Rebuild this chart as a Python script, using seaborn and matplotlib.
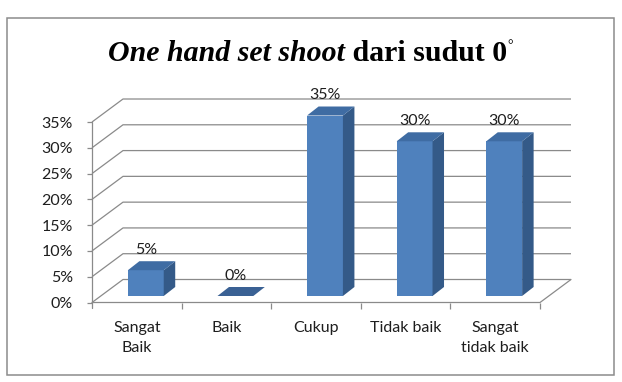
import matplotlib
matplotlib.use("Agg")
import matplotlib.pyplot as plt
import seaborn as sns
import pandas as pd
from matplotlib.patches import Polygon, Rectangle

# ---- data ----
categories = ["Sangat Baik", "Baik", "Cukup", "Tidak baik", "Sangat tidak baik"]
tick_labels = ["Sangat\nBaik", "Baik", "Cukup", "Tidak baik", "Sangat\ntidak baik"]
values = [5, 0, 35, 30, 30]
value_labels = ["5%", "0%", "35%", "30%", "30%"]
yticks = [0, 5, 10, 15, 20, 25, 30, 35]
ytick_labels = ["0%", "5%", "10%", "15%", "20%", "25%", "30%", "35%"]

sns.set_theme(style="white")
plt.rcParams["font.family"] = ["Lato", "DejaVu Sans"]

W, H = 622, 382
fig = plt.figure(figsize=(W / 100, H / 100), dpi=100)
fig.patch.set_facecolor("white")

# geometry (pixels -> data)
px_cat = 89.6
px_pct = 5.157
DX = 31 / px_cat          # wall depth in category units
DY = 23 / px_pct          # wall depth in percent units
x_left, y_floor = 92, 302.5
ax = fig.add_axes([x_left / W, 1 - y_floor / H, (5 + DX) * px_cat / W, 40 * px_pct / H])

df = pd.DataFrame({"kategori": categories, "nilai": values})
sns.barplot(data=df, x="kategori", y="nilai", width=0.40, color="#4F81BD",
            saturation=1, ax=ax, zorder=3, linewidth=0)

ax.set_xlim(-0.5, 4.5 + DX)
ax.set_ylim(0, 40)
for s in ax.spines.values():
    s.set_visible(False)
ax.set_facecolor("none")
ax.grid(False)

grid_c = "#8a8a8a"
lw = 0.9
txt_c = "#1e1e1e"
fsz = 11.5
# back wall gridlines with perspective
for v in yticks:
    ax.plot([-0.5, -0.5 + DX, 4.5 + DX], [v, v + DY, v + DY], color=grid_c, lw=lw,
            zorder=1, clip_on=False, solid_capstyle="butt")
# floor front edge and right edge
ax.plot([-0.5, 4.5, 4.5 + DX], [0, 0, DY], color=grid_c, lw=lw, zorder=1, clip_on=False)
# vertical value axis
ax.plot([-0.5, -0.5], [-1.1, 35], color=grid_c, lw=lw, zorder=2, clip_on=False)

# bars: front faces come from seaborn, shifted into the floor depth
bx = 9 / px_cat
by = 6.5 / px_pct
ddx = 11.5 / px_cat
ddy = 9 / px_pct
for i, p in enumerate(ax.patches[:len(values)]):
    p.set_x(p.get_x() + bx)
    p.set_y(p.get_y() + by)
    x0, y0, w, h = p.get_x(), p.get_y(), p.get_width(), p.get_height()
    if h > 0:
        side = Polygon([(x0 + w, y0), (x0 + w + ddx, y0 + ddy), (x0 + w + ddx, y0 + h + ddy),
                        (x0 + w, y0 + h)], closed=True, facecolor="#345A88", edgecolor="none", zorder=3)
        ax.add_patch(side)
        top_c = "#3F6CA3"
    else:
        top_c = "#3A6194"
    top = Polygon([(x0, y0 + h), (x0 + ddx, y0 + h + ddy), (x0 + w + ddx, y0 + h + ddy),
                   (x0 + w, y0 + h)], closed=True, facecolor=top_c, edgecolor="none", zorder=3)
    ax.add_patch(top)
    ax.annotate(value_labels[i], (x0 + w / 2, y0 + h + ddy), xytext=(0, 3),
                textcoords="offset points", ha="center", va="bottom", fontsize=fsz,
                color=txt_c, zorder=5)

# ticks
ax.set_yticks(yticks)
ax.set_yticklabels(ytick_labels)
ax.tick_params(axis="y", which="major", left=True, length=3.6, width=lw, color=grid_c,
               pad=10, labelsize=fsz, labelcolor=txt_c)
ax.set_xticks(range(len(categories)))
ax.set_xticklabels(tick_labels)
ax.set_xticks([0.5, 1.5, 2.5, 3.5, 4.5], minor=True)
ax.tick_params(axis="x", which="major", bottom=False, length=0, pad=13, labelsize=fsz,
               labelcolor=txt_c)
ax.tick_params(axis="x", which="minor", bottom=True, length=4, width=lw, color=grid_c)
for t in ax.get_xticklabels():
    t.set_linespacing(1.6)
ax.set_xlabel("")
ax.set_ylabel("")

# border
fig.add_artist(Rectangle((6.5 / W, 1 - 375 / H), (614 - 6.5) / W, (375 - 18) / H,
                         transform=fig.transFigure, fill=False, edgecolor="#8c8c8c", lw=1.1))

# title in pieces
fig.canvas.draw()
r = fig.canvas.get_renderer()
ty = 1 - 61 / H
fs = 21.5
parts = [("One hand set shoot", "italic", "bold", fs, 0),
         (" dari sudut 0", "normal", "bold", fs, 0),
         ("°", "normal", "normal", 10, 12 / H)]
texts = []
for s, st, wt, size, dy in parts:
    t = fig.text(0, ty + dy, s, family="Liberation Serif", style=st, weight=wt, fontsize=size,
                 ha="left", va="baseline", color="black")
    texts.append(t)
widths = [t.get_window_extent(r).width for t in texts]
total = sum(widths)
x = 310.5 - total / 2
for t, wdt in zip(texts, widths):
    t.set_x(x / W)
    x += wdt

fig.savefig("out.png", dpi=100)
